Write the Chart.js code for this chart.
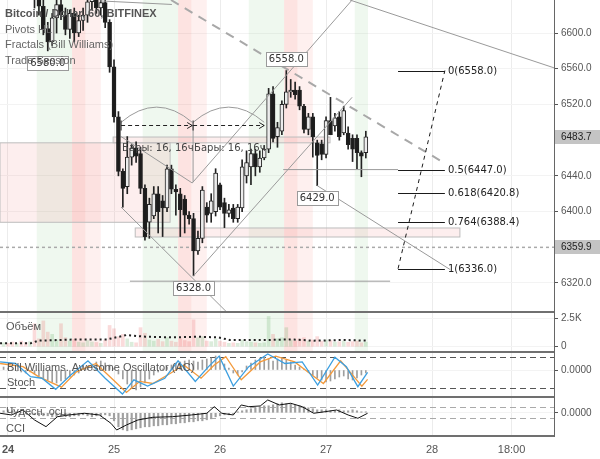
<!DOCTYPE html>
<html lang="ru">
<head>
<meta charset="UTF-8">
<title>Bitcoin / Dollar, 60, BITFINEX</title>
<script src="https://cdn.jsdelivr.net/npm/chart.js@4"></script>
<style>
  body { margin: 0; background: #fff; }
  #wrap { position: relative; width: 600px; height: 459px; overflow: hidden; }
  canvas { position: absolute; left: 0; }
</style>
</head>
<body>
<div id="wrap">
  <canvas id="price" width="600" height="311" style="top:0"></canvas>
  <canvas id="vol" width="600" height="40" style="top:311px"></canvas>
  <canvas id="osc" width="600" height="45" style="top:351px"></canvas>
  <canvas id="cci" width="600" height="63" style="top:396px"></canvas>
</div>
<script>
// hours since 24th 00:00, one candle per hour
const hours = [-1,0,1,2,3,4,5,6,7,8,9,10,11,12,13,14,15,16,17,18,19,20,21,22,23,24,25,26,27,28,29,30,
  31,32,33,34,35,36,37,38,39,40,41,42,43,44,45,46,47,48,49,50,51,52,53,54,55,56,57,58,59,60,61,62,
  63,64,65,66,67,68,69,70,71,72,73,74,75,76,77,78,79,80,81];
const opens = [6672,6680,6670,6662,6675,6665,6655,6660,6640,
  6630,6605,6590,6617,6632,6620,6604,6622,6600,6614,6620,6635,6640,6628,6634,6612,6562,6506,6445,
  6428,6461,6471,6465,6426,6388,6395,6420,6412,6404,6448,6425,6420,6414,6396,6392,6356,6370,6405,6398,
  6400,6430,6410,6398,6404,6392,6404,6440,6450,6465,6450,6460,6470,6532,6484,6490,6520,6534,6536,6536,
  6518,6492,6506,6477,6476,6464,6502,6496,6506,6488,6488,6482,6482,6466,6466];
const highs = [6690,6695,6685,6680,6688,6675,6668,6670,6652,
  6645,6612,6622,6640,6645,6628,6626,6628,6620,6628,6645,6652,6648,6642,6638,6615,6570,6512,6448,
  6484,6475,6478,6472,6430,6415,6428,6428,6418,6452,6452,6430,6426,6418,6400,6398,6378,6428,6410,6420,
  6448,6432,6415,6408,6408,6408,6458,6468,6470,6470,6468,6474,6538,6540,6500,6524,6558,6548,6545,6540,
  6520,6510,6510,6480,6480,6506,6528,6510,6512,6518,6495,6486,6486,6468,6490];
const lows = [6660,6665,6655,6652,6660,6648,6645,6628,6620,
  6598,6580,6586,6600,6615,6598,6594,6590,6596,6603,6612,6626,6622,6620,6606,6556,6500,6440,6405,
  6420,6452,6455,6420,6368,6370,6392,6376,6372,6400,6420,6396,6372,6376,6386,6328,6352,6365,6388,6388,
  6395,6402,6382,6394,6388,6388,6400,6432,6430,6440,6444,6458,6466,6478,6472,6486,6516,6528,6526,6514,
  6488,6486,6461,6429,6458,6460,6486,6490,6480,6486,6470,6456,6448,6439,6460];
const closes = [6680,6670,6662,6675,6665,6655,6660,6640,6630,
  6605,6590,6617,6632,6620,6604,6622,6600,6614,6620,6635,6640,6628,6634,6612,6562,6506,6445,6426,
  6461,6471,6462,6426,6372,6408,6420,6400,6404,6448,6425,6422,6402,6396,6392,6356,6370,6424,6396,6412,
  6443,6405,6398,6402,6392,6405,6450,6455,6465,6450,6460,6470,6532,6482,6494,6520,6534,6536,6531,6518,
  6492,6506,6484,6463,6464,6502,6486,6505,6484,6513,6475,6470,6466,6462,6483.7];
const volumes = [350,300,420,280,500,380,450,2050,700,
  2300,1300,1100,600,2050,800,500,650,400,350,550,420,380,300,600,1900,1600,900,1100,
  700,400,350,1700,1200,600,500,650,450,800,500,400,700,550,450,2400,800,900,500,450,
  700,500,400,300,350,300,600,450,400,350,300,350,2700,1100,700,800,1700,600,500,700,
  800,500,600,900,500,600,550,400,450,500,400,450,500,350,400];
const volMaHours = [-1.8,5.1,6.9,15.5,22.4,26.8,31.1,37.2,43.2,47.6,50.2,58.8,64.0,69.2,76.2,81.4];
const volMa = [300,300,540,650,650,1040,890,830,890,830,600,600,650,540,600,540];

// Bill Williams AC histogram (arbitrary units), one per candle
const acValues = [3,2,1,-1,-2,-3,-2,-4,-6,-8,
  -10,-12,-13,-11,-9,-7,-5,-3,
  2,4,6,8,9,7,5,2,
  -4,-9,-14,-18,-20,-17,-13,-9,-5,
  -2,1,3,5,7,
  8,9,10,9,8,10,11,12,
  14,13,6,2,
  -3,-5,-2,
  4,7,10,12,13,11,9,11,12,10,8,
  5,3,1,-2,
  -5,-8,-10,-12,-11,-9,-7,-6,-9,-10,-8,-5,-3];
const stochKHours = [-1.8,1.7,5.1,7.7,10.8,14.2,18.1,22.0,25.9,28.5,31.6,35.5,38.5,42.4,45.4,47.8,51.0,54.5,58.8,62.7,66.6,70.1,74.0,76.6,79.2,81.4];
const stochK = [70,67,42,39,18,45,72,39,9,36,24,39,72,33,61,81,24,61,85,67,70,26,79,61,23,50];
const stochDHours = [-1.8,3.4,6.9,12.1,15.5,19.9,23.8,26.8,29.8,32.8,36.7,39.8,43.7,46.7,49.3,52.8,57.1,60.6,64.9,67.9,71.4,75.3,78.3,80.1,81.4];
const stochD = [67,61,42,22,51,67,36,12,33,29,48,64,39,64,80,36,70,81,70,51,29,72,42,24,37];
const stochBands = [80, 20];

// Awesome oscillator histogram (arbitrary units) and CCI
const aoValues = [2,3,2,1,0,-1,-2,-2,-3,-3,
  -3,-4,-4,-3,-3,-4,-3,-3,-2,-3,-4,-3,-3,-2,-3,
  -8,-14,-17,-18,-17,-16,-15,-14,-14,-13,-13,-12,-12,-11,-11,-10,-10,-9,-9,-8,-8,-7,-6,
  -4,-3,-2,-2,-1,1,
  2,3,4,5,6,7,7,8,9,10,9,9,8,7,6,5,4,3,
  3,3,2,2,3,2,2,3,2,1,1];
const cciHours = [-1.8,0.8,3.4,6.0,8.6,11.2,13.8,17.3,20.7,23.3,24.6,26.8,29.4,32.8,37.2,41.5,45.0,46.7,48.4,51.0,52.8,54.5,57.1,58.8,61.4,64.0,66.6,69.2,71.8,74.4,77.0,79.2,81.4];
const cciValues = [-9,-40,51,-131,-252,-71,-40,-9,-40,-191,-313,-222,-131,-82,-71,-40,-9,111,-9,-40,142,111,124,233,142,173,111,-9,20,51,-40,-100,-9];
const cciBands = [100, -100];

// axis ticks
const dayTicks = [0, 24, 48, 72, 96, 114];
const dayLabels = ['24', '25', '26', '27', '28', '18:00'];
const priceTicks = [6320, 6400, 6440, 6520, 6560, 6600];
const lastPrice = 6483.7;
const refLevel = 6359.9;

// trade sessions (hour offsets within a day)
const sessionDays = [0, 24, 48, 72];
const sessionWindows = [[6.5, 14.5], [14.5, 17.5], [17.5, 21]];
const lastBarEdge = 81.5;

// drawings: [hour1, price1, hour2, price2]
const trendLines = [
  [25.6, 6484, 41.7, 6432],
  [41.7, 6432, 77.9, 6637],
  [42, 6328, 77.9, 6528],
  [77.4, 6637, 123.6, 6561],
  [25.6, 6405, 49.8, 6286],
  [70, 6429, 100.1, 6335],
  [20.8, 6636, 37.1, 6632],
  [41.9, 6497, 41.9, 6433],
  [62.3, 6447, 88.3, 6447],
  [27.6, 6322, 86.5, 6322]
];
const dashedTrend = [36.9, 6637, 98.9, 6454];
const pinkBoxes = [[-1.81, 36.7, 6477, 6388], [23.8, 72.9, 6483.5, 6477], [28.8, 102.3, 6381.6, 6371.5]];
const fibLevels = ['0', '0.5', '0.618', '0.764', '1'];
const fibPrices = [6558.0, 6447.0, 6420.8, 6388.4, 6336.0];
const fibFrom = 88.3, fibTo = 98.9;
const barSpans = [[25.6, 41.7], [41.9, 58.0]];
const barArrowPrice = 6497, barArcBase = 6500, barArcTop = 6534;
const pivots = [[9, 6580, 1], [63, 6558, -1], [70, 6429, 1], [42, 6328, 1]];

const X_MIN = -1.81, X_MAX = 123.6;
const SANS = '"Liberation Sans", Arial, sans-serif';
const isUp = i => closes[i] >= opens[i];

function xScale(showLabels) {
  return {
    type: 'linear', min: X_MIN, max: X_MAX, offset: false,
    afterBuildTicks: s => { s.ticks = dayTicks.map(v => ({ value: v })); },
    afterFit: s => { s.height = showLabels ? 23 : 0; s.paddingLeft = 0; s.paddingRight = 0; },
    grid: { color: '#ececec', drawTicks: false, offset: false },
    border: { display: false },
    ticks: {
      display: showLabels, autoSkip: false, maxRotation: 0, padding: 7, color: '#555',
      font: c => ({ family: SANS, size: 11, weight: c.tick && c.tick.value === 0 ? 'bold' : 'normal' }),
      callback: v => dayLabels[dayTicks.indexOf(v)]
    }
  };
}
function yRight(min, max, ticks, fmt) {
  return {
    position: 'right', min: min, max: max,
    afterBuildTicks: s => { s.ticks = ticks.map(v => ({ value: v })); },
    afterFit: s => { s.width = 46; s.paddingTop = 0; s.paddingBottom = 0; },
    grid: { color: '#f3f3f3', tickColor: '#555', tickLength: 4 },
    border: { color: '#666', width: 1 },
    ticks: { color: '#555', padding: 3, font: { family: SANS, size: 10 }, callback: fmt }
  };
}
const baseOptions = {
  responsive: false, animation: false,
  layout: { padding: 0, autoPadding: false },
  plugins: { legend: { display: false }, tooltip: { enabled: false } }
};

function clipArea(ctx, a) {
  ctx.save();
  ctx.beginPath();
  ctx.rect(a.left, a.top, a.right - a.left, a.bottom - a.top);
  ctx.clip();
}
function drawSessions(chart) {
  const { ctx, chartArea: a } = chart;
  const x = chart.scales.x;
  const colors = ['rgba(76,175,80,0.09)', 'rgba(244,67,54,0.15)', 'rgba(244,67,54,0.08)'];
  clipArea(ctx, a);
  sessionDays.forEach(d => {
    sessionWindows.forEach((w, k) => {
      const s = d + w[0], e = Math.min(d + w[1], lastBarEdge);
      if (e <= s) return;
      const x1 = x.getPixelForValue(s), x2 = x.getPixelForValue(e);
      ctx.fillStyle = colors[k];
      ctx.fillRect(x1, a.top, x2 - x1, a.bottom - a.top);
    });
  });
  ctx.restore();
}
function separator(chart, atBottom) {
  const { ctx, chartArea: a } = chart;
  ctx.save();
  ctx.strokeStyle = '#707070';
  ctx.lineWidth = 2;
  ctx.beginPath();
  const y = atBottom ? a.bottom : a.top + 1;
  ctx.moveTo(0, y); ctx.lineTo(a.right, y);
  ctx.stroke();
  ctx.restore();
}
function paneText(ctx, text, x, y, opts) {
  ctx.save();
  ctx.font = (opts && opts.bold ? 'bold ' : '') + '11px ' + SANS;
  ctx.fillStyle = (opts && opts.color) || '#555';
  ctx.textAlign = 'left';
  ctx.textBaseline = 'middle';
  ctx.fillText(text, x, y);
  ctx.restore();
}
function dashedLevels(chart, scaleId, levels, color) {
  const { ctx, chartArea: a } = chart;
  const s = chart.scales[scaleId];
  ctx.save();
  ctx.strokeStyle = color;
  ctx.lineWidth = 1;
  ctx.setLineDash([6, 4]);
  levels.forEach(v => {
    const y = Math.round(s.getPixelForValue(v)) + 0.5;
    ctx.beginPath(); ctx.moveTo(a.left, y); ctx.lineTo(a.right, y); ctx.stroke();
  });
  ctx.restore();
}
function boxLabel(ctx, text, cx, cy) {
  ctx.save();
  ctx.font = '10px "DejaVu Sans", sans-serif';
  const w = Math.round(ctx.measureText(text).width + 6), h = 14;
  const left = Math.round(cx - w / 2), top = Math.round(cy - h / 2);
  ctx.fillStyle = '#fff';
  ctx.fillRect(left, top, w, h);
  ctx.strokeStyle = '#9a9a9a';
  ctx.lineWidth = 1;
  ctx.strokeRect(left + 0.5, top + 0.5, w, h);
  ctx.fillStyle = '#333';
  ctx.textAlign = 'center';
  ctx.textBaseline = 'middle';
  ctx.fillText(text, cx, cy + 1);
  ctx.restore();
}

const pricePlugin = {
  id: 'priceDrawings',
  beforeDatasetsDraw(chart) {
    const { ctx, chartArea: a } = chart;
    const px = v => chart.scales.x.getPixelForValue(v);
    const py = v => chart.scales.y.getPixelForValue(v);
    drawSessions(chart);
    clipArea(ctx, a);
    pinkBoxes.forEach(b => {
      const x1 = px(b[0]), x2 = px(b[1]), y1 = py(b[2]), y2 = py(b[3]);
      ctx.fillStyle = 'rgba(240,120,120,0.13)';
      ctx.fillRect(x1, y1, x2 - x1, y2 - y1);
      ctx.strokeStyle = '#bdbdbd';
      ctx.lineWidth = 1;
      ctx.strokeRect(x1, y1, x2 - x1, y2 - y1);
    });
    // reference level
    ctx.strokeStyle = '#aaa';
    ctx.lineWidth = 1.5;
    ctx.setLineDash([3, 3]);
    ctx.beginPath();
    ctx.moveTo(a.left, py(refLevel)); ctx.lineTo(a.right, py(refLevel));
    ctx.stroke();
    ctx.restore();
  },
  afterDatasetsDraw(chart) {
    const { ctx, chartArea: a } = chart;
    const px = v => chart.scales.x.getPixelForValue(v);
    const py = v => chart.scales.y.getPixelForValue(v);
    clipArea(ctx, a);
    // thick dashed trend
    ctx.strokeStyle = '#a8a8a8';
    ctx.lineWidth = 2;
    ctx.setLineDash([9, 7]);
    ctx.beginPath();
    ctx.moveTo(px(dashedTrend[0]), py(dashedTrend[1]));
    ctx.lineTo(px(dashedTrend[2]), py(dashedTrend[3]));
    ctx.stroke();
    ctx.setLineDash([]);
    // trend lines
    ctx.strokeStyle = '#9a9a9a';
    ctx.lineWidth = 1;
    trendLines.forEach(l => {
      ctx.beginPath();
      ctx.moveTo(px(l[0]), py(l[1]));
      ctx.lineTo(px(l[2]), py(l[3]));
      ctx.stroke();
    });
    // bars measure: arcs and arrows
    barSpans.forEach(s => {
      const x1 = px(s[0]), x2 = px(s[1]);
      ctx.strokeStyle = '#9a9a9a';
      ctx.beginPath();
      ctx.moveTo(x1, py(barArcBase));
      ctx.quadraticCurveTo((x1 + x2) / 2, py(barArcTop), x2, py(barArcBase));
      ctx.stroke();
      const y = Math.round(py(barArrowPrice)) + 0.5;
      ctx.strokeStyle = '#222';
      ctx.setLineDash([4, 3]);
      ctx.beginPath(); ctx.moveTo(x1, y); ctx.lineTo(x2, y); ctx.stroke();
      ctx.setLineDash([]);
      ctx.beginPath();
      ctx.moveTo(x1, y - 5); ctx.lineTo(x1, y + 5);
      ctx.moveTo(x2 - 5, y - 3); ctx.lineTo(x2, y); ctx.lineTo(x2 - 5, y + 3);
      ctx.stroke();
      ctx.font = '10px "DejaVu Sans", sans-serif';
      ctx.fillStyle = '#444';
      ctx.textAlign = 'left';
      ctx.textBaseline = 'middle';
      ctx.fillText('Бары: 16, 16ч', x1 + 1, py(barArrowPrice) + 23);
    });
    // fibonacci
    ctx.strokeStyle = '#1a1a1a';
    ctx.lineWidth = 1;
    fibPrices.forEach((p, i) => {
      const y = Math.round(py(p)) + 0.5;
      ctx.beginPath(); ctx.moveTo(px(fibFrom), y); ctx.lineTo(px(fibTo), y); ctx.stroke();
      ctx.font = '10px "DejaVu Sans", sans-serif';
      ctx.fillStyle = '#222';
      ctx.textAlign = 'left';
      ctx.textBaseline = 'middle';
      ctx.fillText(fibLevels[i] + '(' + p.toFixed(1) + ')', px(fibTo) + 3, y);
    });
    ctx.setLineDash([4, 4]);
    ctx.beginPath();
    ctx.moveTo(px(fibFrom), py(fibPrices[4]));
    ctx.lineTo(px(fibTo), py(fibPrices[0]));
    ctx.stroke();
    ctx.setLineDash([]);
    ctx.restore();
    // pivot labels
    pivots.forEach(p => boxLabel(ctx, p[1].toFixed(1), px(p[0]), py(p[1]) + p[2] * 12));
    // legend
    paneText(ctx, 'Bitcoin / Dollar, 60, BITFINEX', 5, 14, { bold: true, color: '#555' });
    paneText(ctx, 'Pivots HL', 5, 30, { color: '#666' });
    paneText(ctx, 'Fractals (Bill Williams)', 5, 45, { color: '#666' });
    paneText(ctx, 'Trade Session', 5, 61, { color: '#666' });
  },
  afterDraw(chart) {
    const { ctx, chartArea: a } = chart;
    const py = v => chart.scales.y.getPixelForValue(v);
    [lastPrice, refLevel].forEach(p => {
      const y = Math.round(py(p));
      ctx.fillStyle = '#c4c4c4';
      ctx.fillRect(a.right + 1, y - 7, 600 - a.right, 14);
      ctx.fillStyle = '#222';
      ctx.font = '10px ' + SANS;
      ctx.textAlign = 'left';
      ctx.textBaseline = 'middle';
      ctx.fillText(p.toFixed(1), a.right + 7, y);
    });
  }
};

const wickData = hours.map((h, i) => ({ x: h, y: [lows[i], highs[i]] }));
const bodyData = hours.map((h, i) => ({ x: h, y: [Math.min(opens[i], closes[i]), Math.max(opens[i], closes[i])] }));

new Chart(document.getElementById('price'), {
  type: 'bar',
  data: { datasets: [
    { data: bodyData, order: 0, grouped: false, barThickness: 4,
      backgroundColor: c => isUp(c.dataIndex) ? '#ececec' : '#1c1c1c',
      borderColor: '#222', borderWidth: 1, borderSkipped: false },
    { data: wickData, order: 1, grouped: false, barThickness: 1, backgroundColor: '#222' }
  ] },
  options: Object.assign({}, baseOptions, {
    scales: {
      x: xScale(false),
      y: yRight(6288.6, 6637.0, priceTicks, v => v.toFixed(1))
    }
  }),
  plugins: [pricePlugin]
});

new Chart(document.getElementById('vol'), {
  type: 'bar',
  data: { datasets: [
    { type: 'line', data: volMaHours.map((h, i) => ({ x: h, y: volMa[i] })), order: 0,
      borderColor: '#222', borderWidth: 2, borderDash: [2, 3], pointRadius: 0, tension: 0 },
    { data: hours.map((h, i) => ({ x: h, y: volumes[i] })), order: 1, barThickness: 3,
      backgroundColor: c => isUp(c.dataIndex) ? 'rgba(90,170,90,0.22)' : 'rgba(230,90,90,0.22)' }
  ] },
  options: Object.assign({}, baseOptions, {
    scales: {
      x: xScale(false),
      y: yRight(-384, 3188, [0, 2500], v => v === 0 ? '0' : '2.5K')
    }
  }),
  plugins: [{
    id: 'volPane',
    beforeDatasetsDraw(chart) { drawSessions(chart); },
    afterDraw(chart) {
      separator(chart, false);
      paneText(chart.ctx, 'Объём', 6, 16);
    }
  }]
});

new Chart(document.getElementById('osc'), {
  type: 'bar',
  data: { datasets: [
    { type: 'line', yAxisID: 'y2', data: stochKHours.map((h, i) => ({ x: h, y: stochK[i] })), order: 0,
      borderColor: '#3d9fe0', borderWidth: 1.3, pointRadius: 0, tension: 0 },
    { type: 'line', yAxisID: 'y2', data: stochDHours.map((h, i) => ({ x: h, y: stochD[i] })), order: 1,
      borderColor: '#f39a3c', borderWidth: 1.3, pointRadius: 0, tension: 0 },
    { data: hours.map((h, i) => ({ x: h, y: acValues[i] })), order: 2, barThickness: 1,
      backgroundColor: '#9e9e9e' }
  ] },
  options: Object.assign({}, baseOptions, {
    scales: {
      x: xScale(false),
      y: yRight(-26, 19, [0], () => '0.0000'),
      y2: { display: false, position: 'right', min: 5.3, max: 90.7 }
    }
  }),
  plugins: [{
    id: 'oscPane',
    beforeDatasetsDraw(chart) { dashedLevels(chart, 'y2', stochBands, '#555'); },
    afterDraw(chart) {
      separator(chart, false);
      paneText(chart.ctx, 'Bill Williams. Awesome Oscillator (AC)', 7, 17);
      paneText(chart.ctx, 'Stoch', 7, 32);
    }
  }]
});

new Chart(document.getElementById('cci'), {
  type: 'bar',
  data: { datasets: [
    { type: 'line', yAxisID: 'y2', data: cciHours.map((h, i) => ({ x: h, y: cciValues[i] })), order: 0,
      borderColor: '#111', borderWidth: 1, pointRadius: 0, tension: 0 },
    { data: hours.map((h, i) => ({ x: h, y: aoValues[i] })), order: 1, barThickness: 1.5,
      backgroundColor: '#a0a0a0' }
  ] },
  options: Object.assign({}, baseOptions, {
    scales: {
      x: xScale(true),
      y: yRight(-23.2, 16.8, [0], () => '0.0000'),
      y2: { display: false, position: 'right', min: -422, max: 305 }
    }
  }),
  plugins: [{
    id: 'cciPane',
    beforeDatasetsDraw(chart) { dashedLevels(chart, 'y2', cciBands, '#aaa'); },
    afterDraw(chart) {
      separator(chart, false);
      separator(chart, true);
      paneText(chart.ctx, 'Чудесн. осц.', 6, 16);
      paneText(chart.ctx, 'CCI', 6, 33);
    }
  }]
});
</script>
</body>
</html>
